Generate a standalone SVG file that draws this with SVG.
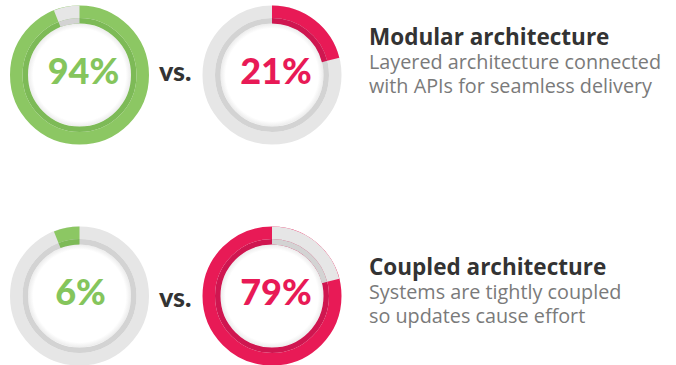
<svg xmlns="http://www.w3.org/2000/svg" width="676" height="365" viewBox="0 0 676 365">
  <style>
    .ring-outer { fill: none; stroke-width: 12.5; }
    .ring-inner { fill: none; stroke-width: 5.5; }
    .seg-outer { fill: none; stroke-width: 12.5; }
    .seg-inner { fill: none; stroke-width: 5.5; }
    .gray-o { stroke: #e6e6e6; }
    .gray-i { stroke: #d3d3d3; }
    .green-o { stroke: #8cc763; }
    .green-i { stroke: #7dba57; }
    .red-o { stroke: #e81a56; }
    .red-i { stroke: #cf1650; }
    .pct { font-family: Lato, "Open Sans", sans-serif; font-weight: 900; font-size: 36px; text-anchor: middle; }
    .pct-green { fill: #85c55c; }
    .pct-red { fill: #e81a56; }
    .vs { font-family: Lato, "Open Sans", sans-serif; font-weight: 900; font-size: 27px; fill: #333333; }
    .title { font-family: "Open Sans", "Noto Sans", sans-serif; font-weight: 700; font-size: 22.5px; fill: #333333; }
    .desc { font-family: "Open Sans", "Noto Sans", sans-serif; font-weight: 400; font-size: 19.8px; fill: #7a7a7a; }
  </style>
  <defs>
    <!-- inner face with a soft shade near the ring -->
    <radialGradient id="face" cx="0.5" cy="0.5" r="0.5">
      <stop offset="0.9" stop-color="#ffffff"/>
      <stop offset="1" stop-color="#ececec"/>
    </radialGradient>
    <!-- segment from 338.4deg to the top (6%) -->
    <path id="segA-o" d="M-23.28,-58.81 A63.25,63.25 0 0 1 0,-63.25"/>
    <path id="segA-i" d="M-19.97,-50.44 A54.25,54.25 0 0 1 0,-54.25"/>
    <!-- segment from the top to 75.6deg (21%) -->
    <path id="segB-o" d="M0,-63.25 A63.25,63.25 0 0 1 61.26,-15.73"/>
    <path id="segB-i" d="M0,-54.25 A54.25,54.25 0 0 1 52.55,-13.49"/>
  </defs>

  <!-- Modular: 94% -->
  <g id="donut-94" transform="translate(79.5,75)">
    <circle r="51.5" fill="url(#face)"/>
    <circle class="ring-outer green-o" r="63.25"/>
    <circle class="ring-inner green-i" r="54.25"/>
    <use href="#segA-o" class="seg-outer gray-o"/>
    <use href="#segA-i" class="seg-inner gray-i"/>
    <text class="pct pct-green" x="4" y="9">94%</text>
  </g>

  <g id="vs-top"><text class="vs" x="159" y="81">vs.</text></g>

  <!-- Modular: 21% -->
  <g id="donut-21" transform="translate(272,75)">
    <circle r="51.5" fill="url(#face)"/>
    <circle class="ring-outer gray-o" r="63.25"/>
    <circle class="ring-inner gray-i" r="54.25"/>
    <use href="#segB-o" class="seg-outer red-o"/>
    <use href="#segB-i" class="seg-inner red-i"/>
    <text class="pct pct-red" x="4" y="9">21%</text>
  </g>

  <g id="label-modular">
    <text class="title" x="369" y="45">Modular architecture</text>
    <text class="desc" x="369" y="69">Layered architecture connected</text>
    <text class="desc" x="369" y="93">with APIs for seamless delivery</text>
  </g>

  <!-- Coupled: 6% -->
  <g id="donut-6" transform="translate(79.5,296)">
    <circle r="51.5" fill="url(#face)"/>
    <circle class="ring-outer gray-o" r="63.25"/>
    <circle class="ring-inner gray-i" r="54.25"/>
    <use href="#segA-o" class="seg-outer green-o"/>
    <use href="#segA-i" class="seg-inner green-i"/>
    <text class="pct pct-green" x="1" y="9">6%</text>
  </g>

  <g id="vs-bottom"><text class="vs" x="159" y="307">vs.</text></g>

  <!-- Coupled: 79% -->
  <g id="donut-79" transform="translate(272,296)">
    <circle r="51.5" fill="url(#face)"/>
    <circle class="ring-outer red-o" r="63.25"/>
    <circle class="ring-inner red-i" r="54.25"/>
    <use href="#segB-o" class="seg-outer gray-o"/>
    <use href="#segB-i" class="seg-inner gray-i"/>
    <text class="pct pct-red" x="4" y="9">79%</text>
  </g>

  <g id="label-coupled">
    <text class="title" x="369" y="275">Coupled architecture</text>
    <text class="desc" x="369" y="299">Systems are tightly coupled</text>
    <text class="desc" x="369" y="323">so updates cause effort</text>
  </g>
</svg>
